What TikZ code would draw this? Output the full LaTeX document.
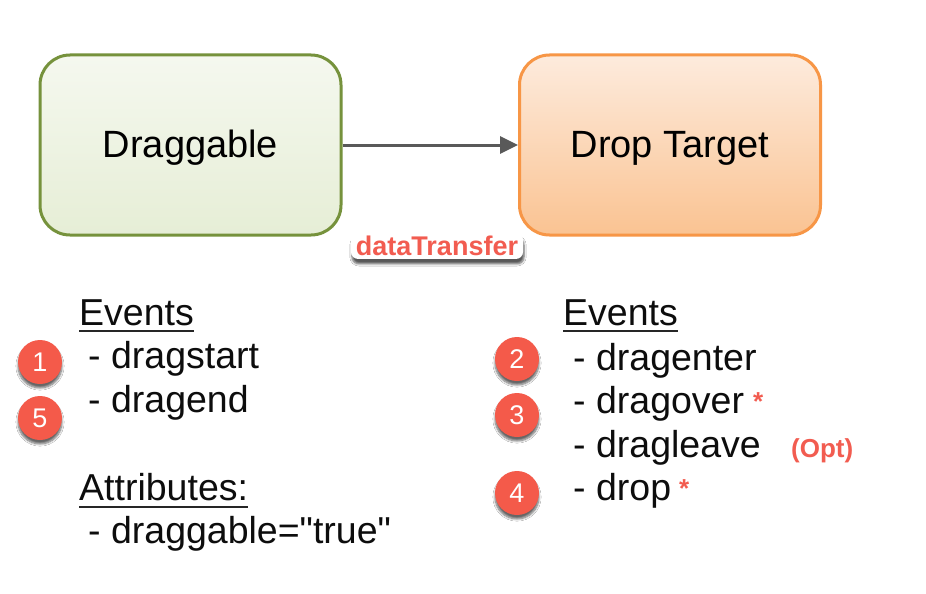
\documentclass[tikz,border=0pt]{standalone}
\usepackage{fontspec}
\setmainfont{Liberation Sans}
% a family without the TeX input mapping, so that " stays a straight quote
\newfontfamily\plainsans{Liberation Sans}
\usetikzlibrary{arrows.meta,shadows,shadows.blur}

\definecolor{grnborder}{HTML}{76923C}
\definecolor{grntop}{HTML}{F5F8EF}
\definecolor{grnbot}{HTML}{E6EED6}
\definecolor{orgborder}{HTML}{F79646}
\definecolor{orgtop}{HTML}{FDEBDD}
\definecolor{orgbot}{HTML}{FAC392}
\definecolor{badge}{HTML}{F45A4A}
\definecolor{accent}{HTML}{F25C50}
\definecolor{arrowgray}{HTML}{595959}

% block caption: baseline set a fixed distance below the block centre
\newcommand{\blockcaption}[1]{\raisebox{-12pt}[0pt][0pt]{#1}}

\tikzset{
  block/.style={rounded corners=30pt, line width=3pt, minimum width=301pt,
    minimum height=180pt, font=\fontsize{38}{44}\selectfont},
  greenblock/.style={block, draw=grnborder, top color=grntop, bottom color=grnbot},
  orangeblock/.style={block, draw=orgborder, top color=orgtop, bottom color=orgbot},
  item/.style={anchor=base west, inner sep=0pt, text=black!95,
    font=\fontsize{37.5}{44}\selectfont},
  heading/.style={item},
  uline/.style={line width=1.7pt, black!85},
  num/.style={circle, fill=badge, minimum size=44pt, inner sep=0pt, text=white,
    font=\fontsize{27}{30}\selectfont,
    blur shadow={shadow xshift=0pt, shadow yshift=-4pt, shadow blur steps=7, shadow opacity=60}},
  redmark/.style={anchor=base west, inner sep=0pt, text=accent,
    font=\bfseries\fontsize{26}{30}\selectfont},
  flow/.style={line width=3pt, draw=arrowgray, -{Triangle[length=18pt,width=17pt]}},
  tag/.style={fill=white, rounded corners=7pt, inner xsep=5pt, inner ysep=3pt,
    text=accent, font=\bfseries\fontsize{27}{30}\selectfont,
    blur shadow={shadow xshift=1pt, shadow yshift=-5pt, shadow blur steps=5, shadow opacity=65}}
}

\begin{document}
\begin{tikzpicture}[x=1pt,y=-1pt]
\path[use as bounding box, fill=white] (0,0) rectangle (926,594);

% the two blocks and the transfer between them
\node[greenblock] (drag) at (190.5,145) {\blockcaption{Draggable}};
\node[orangeblock] (target) at (670,145) {\blockcaption{Drop Target}};
\draw[flow] (drag.east) -- (target.west);
\node[tag] (dt) at (437,246) {dataTransfer};

% source side
\node[heading] (evA) at (79,325) {Events};
\draw[uline] ([yshift=-6pt]evA.base west) -- ([yshift=-6pt]evA.base east);
\node[item] (dstart) at (88,368) {- dragstart};
\node[item] (dend) at (88,412) {- dragend};
\node[heading] (attr) at (79,500) {Attributes:};
\draw[uline] ([yshift=-7pt]attr.base west) -- ([yshift=-7pt]attr.base east);
\node[item] (dattr) at (88,543) {- draggable={\plainsans"}true{\plainsans"}};

% target side
\node[heading] (evB) at (563,325) {Events};
\draw[uline] ([yshift=-6pt]evB.base west) -- ([yshift=-6pt]evB.base east);
\node[item] (denter) at (573,370) {- dragenter};
\node[item] (dover) at (573,413) {- dragover};
\node[item] (dleave) at (573,457) {- dragleave};
\node[item] (ddrop) at (573,500) {- drop};
\node[redmark] (starA) at (753,410) {*};
\node[redmark] (opt) at (791,457) {(Opt)};
\node[redmark] (starB) at (679,497) {*};

% order badges
\node[num] (n1) at (40,362) {1};
\node[num] (n5) at (40,418) {5};
\node[num] (n2) at (517,359) {2};
\node[num] (n3) at (517,415) {3};
\node[num] (n4) at (517,493) {4};
\end{tikzpicture}
\end{document}
